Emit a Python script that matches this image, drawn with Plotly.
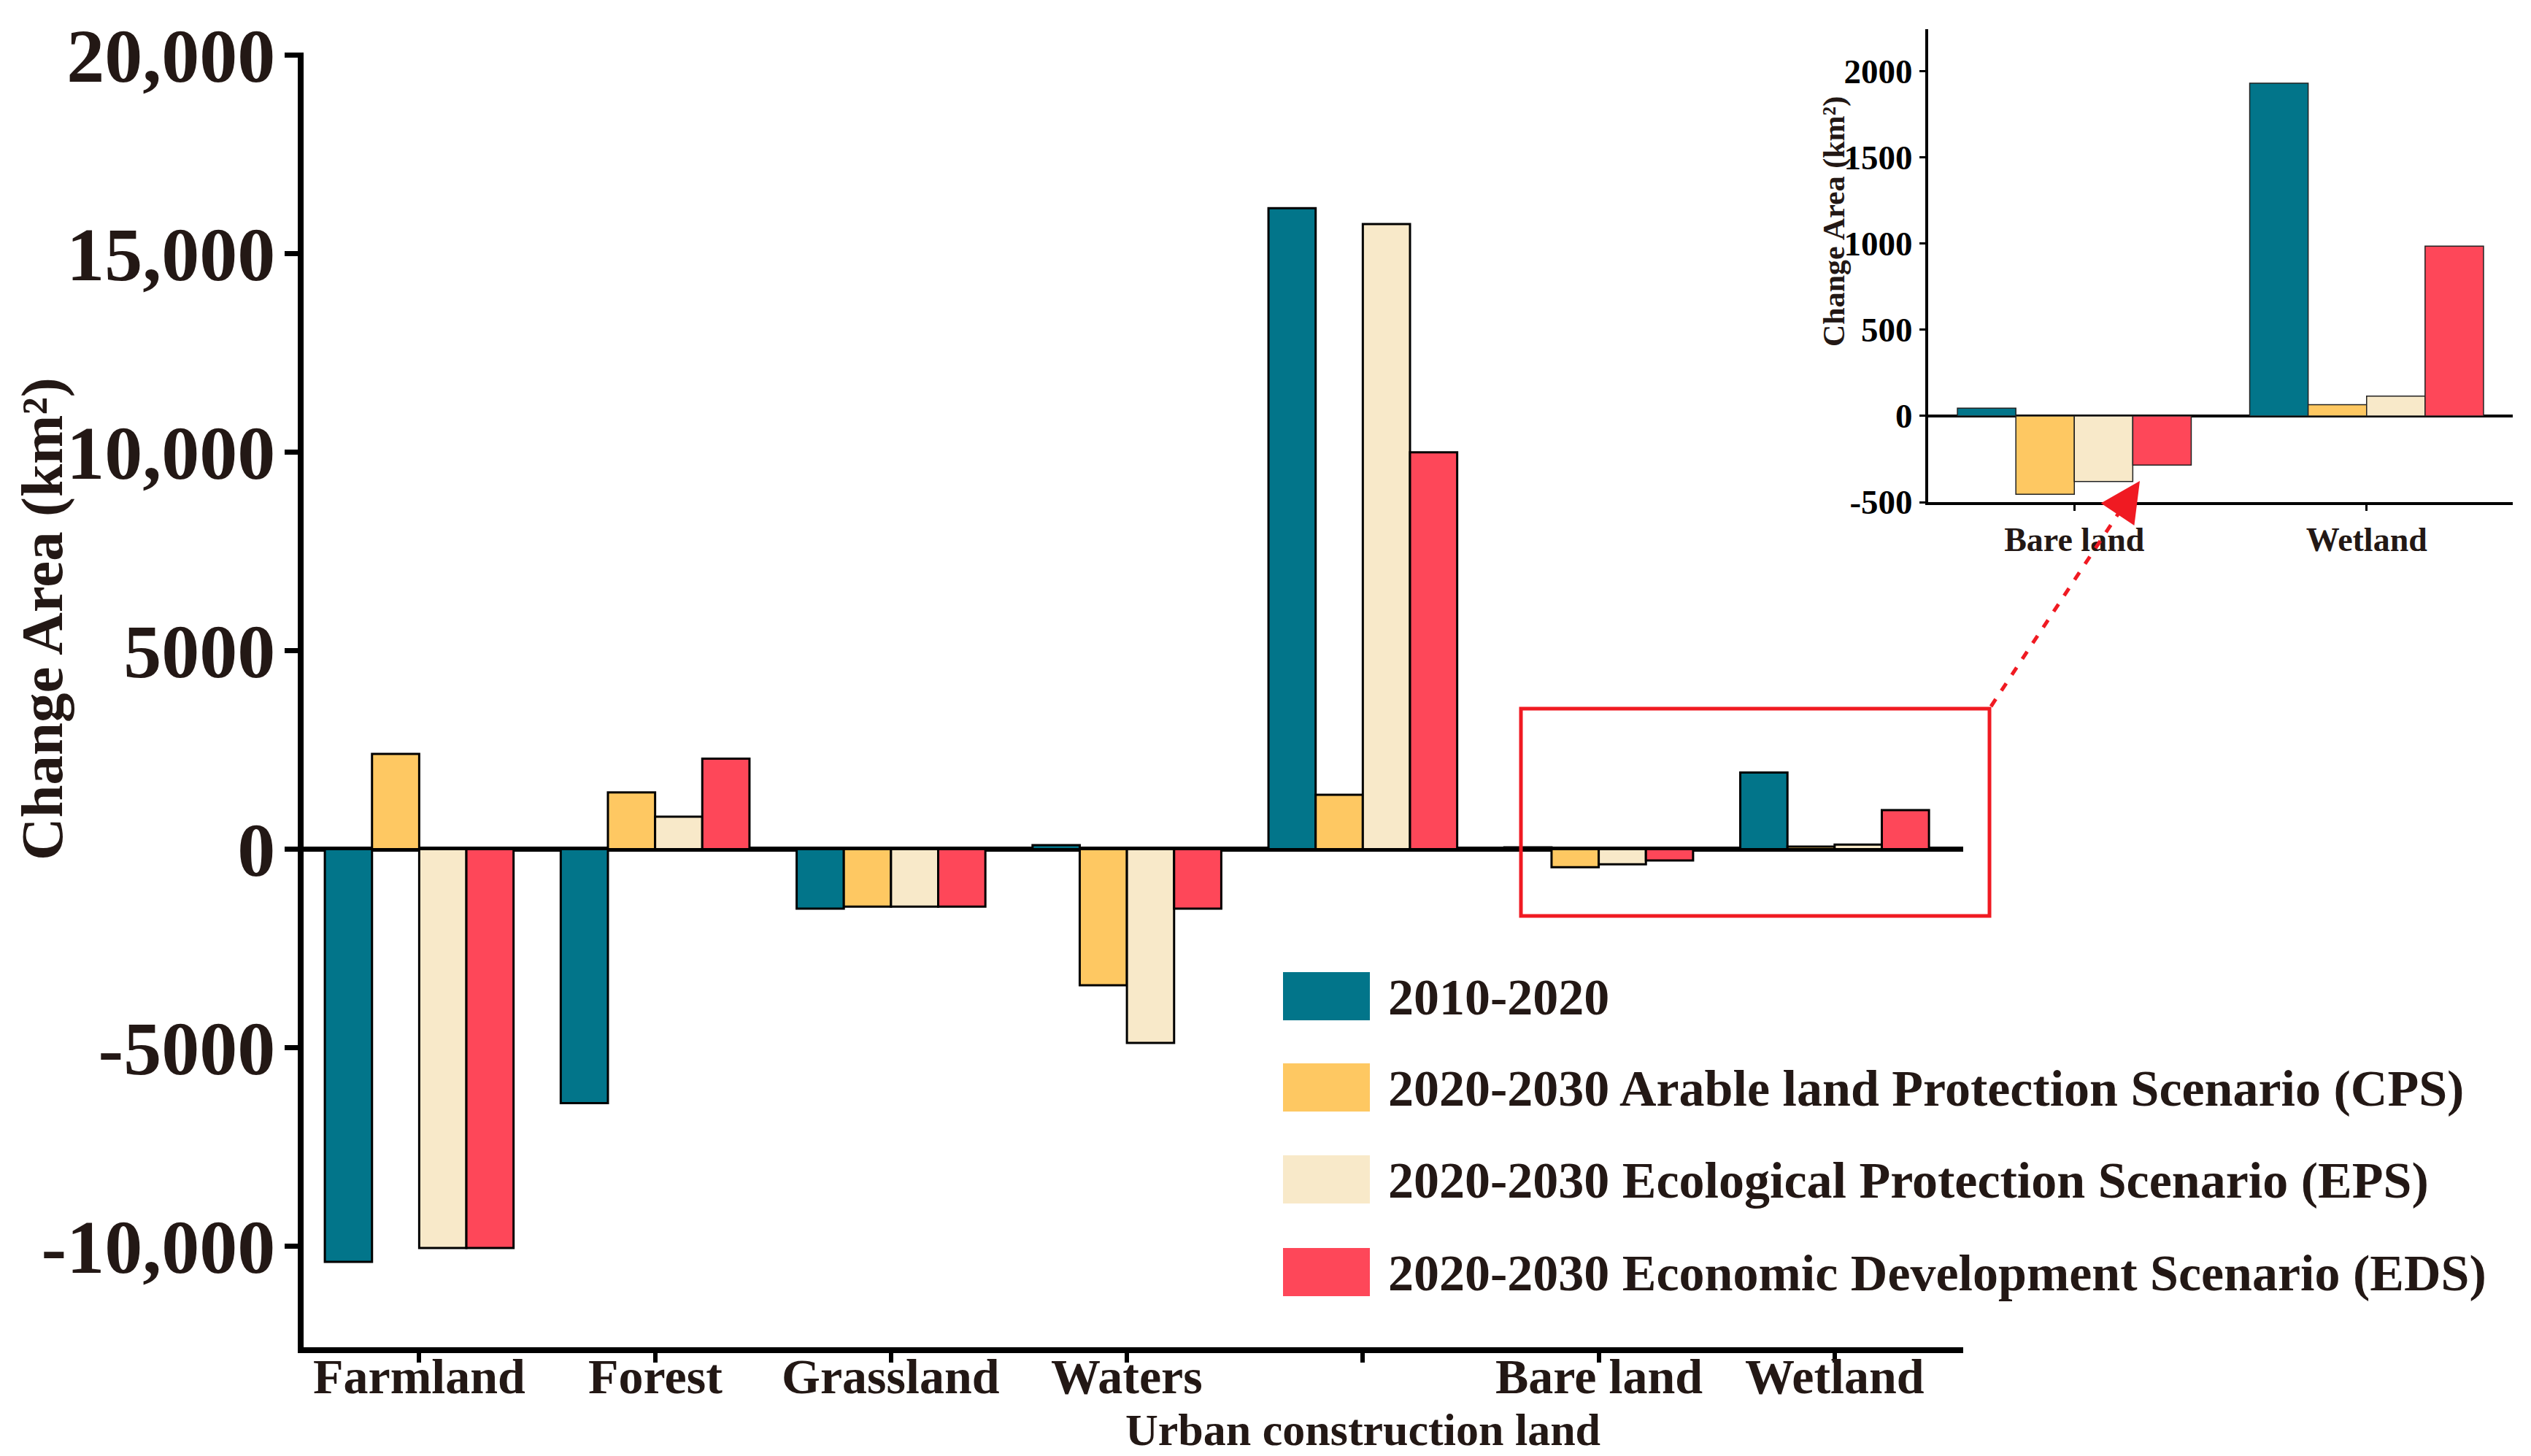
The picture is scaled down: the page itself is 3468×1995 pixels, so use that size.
import plotly.graph_objects as go

# ---------------- data ----------------
categories = ["Farmland", "Forest", "Grassland", "Waters",
              "Urban construction land", "Bare land", "Wetland"]
x_tick_text = ["Farmland", "Forest", "Grassland", "Waters", "", "Bare land", "Wetland"]
urban_label = "Urban construction land"

series_names = [
    "2010-2020",
    "2020-2030 Arable land Protection Scenario (CPS)",
    "2020-2030 Ecological Protection Scenario (EPS)",
    "2020-2030 Economic Development Scenario (EDS)",
]
s_2010_2020 = [-10400, -6400, -1500, 100, 16150, 45, 1930]
s_cps = [2400, 1430, -1450, -3430, 1370, -455, 65]
s_eps = [-10050, 820, -1450, -4880, 15750, -380, 115]
s_eds = [-10050, 2280, -1450, -1500, 10000, -285, 985]
series_values = [s_2010_2020, s_cps, s_eps, s_eds]
colors = ["#02758A", "#FEC862", "#F8E9C9", "#FE4759"]

y_tick_vals = [-10000, -5000, 0, 5000, 10000, 15000, 20000]
y_tick_text = ["-10,000", "-5000", "0", "5000", "10,000", "15,000", "20,000"]

inset_categories = ["Bare land", "Wetland"]
inset_tick_vals = [-500, 0, 500, 1000, 1500, 2000]
inset_tick_text = ["-500", "0", "500", "1000", "1500", "2000"]

y_title = "Change Area (km²)"

# ---------------- figure ----------------
W, H = 3468, 1995          # target picture size
OFF = 8                    # page body margin
FW, FH = W - 2 * OFF, H - OFF
TXT = "#231815"
FONT = "Liberation Serif"
RED = "#F01A22"


def px_x(p):
    return (p - OFF) / FW


def px_y(p):
    return 1 - (p - OFF) / FH


fig = go.Figure()
for name, vals, col in zip(series_names, series_values, colors):
    fig.add_trace(go.Bar(
        x=categories, y=vals, name=name, showlegend=False,
        marker=dict(color=col, line=dict(color="black", width=3)),
        xaxis="x", yaxis="y"))
for name, vals, col in zip(series_names, series_values, colors):
    inset_vals = [vals[categories.index(c)] for c in inset_categories]
    fig.add_trace(go.Bar(
        x=inset_categories, y=inset_vals, name=name, showlegend=False,
        marker=dict(color=col, line=dict(color="#222222", width=1.5)),
        xaxis="x2", yaxis="y2"))

fig.update_layout(
    width=FW, height=FH,
    margin=dict(l=0, r=0, t=0, b=0, autoexpand=False),
    paper_bgcolor="white", plot_bgcolor="rgba(0,0,0,0)",
    barmode="group", bargap=0.2, bargroupgap=0,
    font=dict(family=FONT, color=TXT),
    xaxis=dict(
        domain=[px_x(416), px_x(2690)], anchor="y", automargin=False,
        type="category", range=[-0.49, 6.545],
        tickvals=categories, showticklabels=False,
        showline=True, linecolor="black", linewidth=8,
        ticks="outside", ticklen=13, tickwidth=6, tickcolor="black",
        showgrid=False, zeroline=False),
    yaxis=dict(
        domain=[px_y(1846), px_y(72)], anchor="x", automargin=False,
        range=[-12550, 20070],
        tickvals=y_tick_vals, ticktext=y_tick_text,
        showline=True, linecolor="black", linewidth=8,
        ticks="outside", ticklen=18, tickwidth=7, tickcolor="black",
        ticklabelstandoff=-8,
        tickfont=dict(family=FONT, size=104, color=TXT, weight="bold"),
        showgrid=False, zeroline=True, zerolinecolor="black", zerolinewidth=7),
    xaxis2=dict(
        domain=[px_x(2642), px_x(3443)], anchor="y2", automargin=False,
        type="category", range=[-0.5, 1.5],
        showline=True, linecolor="black", linewidth=4,
        ticks="outside", ticklen=8, tickwidth=3, tickcolor="black",
        tickfont=dict(family=FONT, size=46, color=TXT, weight="bold"),
        showgrid=False, zeroline=False),
    yaxis2=dict(
        domain=[px_y(688), px_y(40)], anchor="x2", automargin=False,
        range=[-500, 2243],
        tickvals=inset_tick_vals, ticktext=inset_tick_text,
        showline=True, linecolor="black", linewidth=4,
        ticks="outside", ticklen=8, tickwidth=3, tickcolor="black",
        tickfont=dict(family=FONT, size=47, color="black", weight="bold"),
        showgrid=False, zeroline=True, zerolinecolor="black", zerolinewidth=4),
)

annotations = [
    dict(text=y_title, xref="paper", yref="paper", x=px_x(58), y=px_y(848),
         textangle=-90, showarrow=False, xanchor="center", yanchor="middle",
         font=dict(family=FONT, size=81, color=TXT, weight="bold")),
    dict(text=y_title, xref="paper", yref="paper", x=px_x(2513), y=px_y(304),
         textangle=-90, showarrow=False, xanchor="center", yanchor="middle",
         font=dict(family=FONT, size=42, color=TXT, weight="bold")),
    dict(text=urban_label, xref="x", yref="paper", x=categories[4], y=px_y(1959),
         showarrow=False, xanchor="center", yanchor="middle",
         font=dict(family=FONT, size=62, color=TXT, weight="bold")),
    # arrowhead
    dict(text="", xref="paper", yref="paper", x=px_x(2932), y=px_y(659),
         showarrow=True, ax=-28, ay=42, arrowhead=2, arrowsize=2.2,
         arrowwidth=5, arrowcolor=RED),
]

# main x tick labels
for cat, lab in zip(categories, x_tick_text):
    if lab:
        annotations.append(dict(text=lab, xref="x", yref="paper", x=cat, y=px_y(1886),
                                showarrow=False, xanchor="center", yanchor="middle",
                                font=dict(family=FONT, size=68, color=TXT, weight="bold")))

shapes = [
    dict(type="rect", xref="paper", yref="paper",
         x0=px_x(2084), x1=px_x(2726), y0=px_y(1255), y1=px_y(971),
         line=dict(color=RED, width=5)),
    dict(type="line", xref="paper", yref="paper",
         x0=px_x(2728), y0=px_y(968), x1=px_x(2905), y1=px_y(700),
         line=dict(color=RED, width=5, dash="12px,14px")),
]

# custom legend with large swatches
row_y = [1365, 1490, 1616, 1743]
for name, col, yy in zip(series_names, colors, row_y):
    shapes.append(dict(type="rect", xref="paper", yref="paper",
                       x0=px_x(1758), x1=px_x(1877),
                       y0=px_y(yy + 33), y1=px_y(yy - 33),
                       fillcolor=col, line=dict(width=0)))
    annotations.append(dict(text=name, xref="paper", yref="paper",
                            x=px_x(1900), y=px_y(yy + 1), showarrow=False,
                            xanchor="left", yanchor="middle",
                            font=dict(family=FONT, size=70, color=TXT, weight="bold")))

fig.update_layout(annotations=annotations, shapes=shapes)
fig.write_html("out.html")
